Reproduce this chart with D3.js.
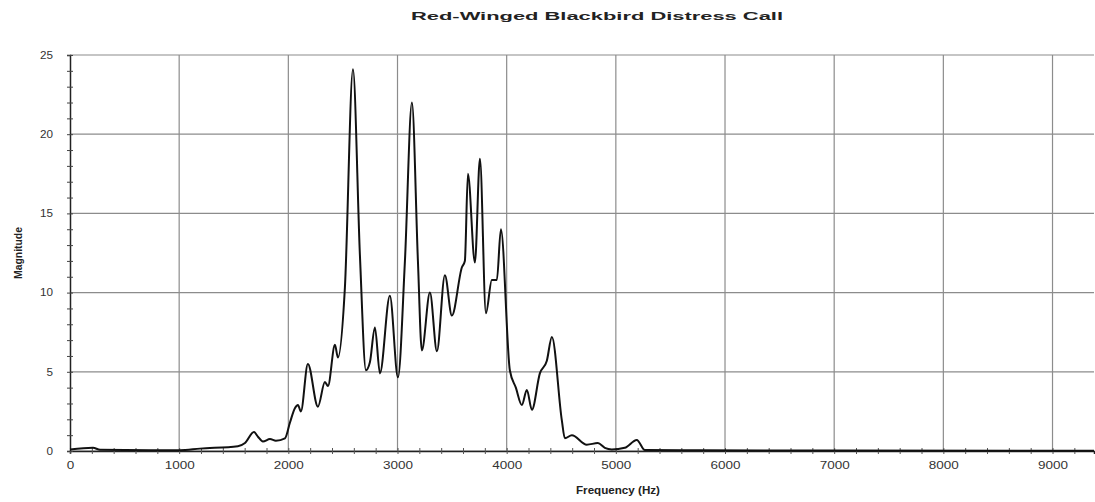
<!DOCTYPE html>
<html>
<head>
<meta charset="utf-8">
<script src="https://cdn.jsdelivr.net/npm/d3@7"></script>
<style>
  html, body { margin: 0; padding: 0; background: #fff; }
  svg { display: block; }
</style>
</head>
<body>
<svg id="chart" width="1095" height="502"></svg>
<script>
// Spectrum of the red-winged blackbird distress call
const frequencyHz = [
  0, 211, 275, 733, 1007, 1190, 1538, 1603, 1685, 1722, 1767, 1832, 1886, 1969,
  2015, 2060, 2088, 2115, 2179, 2271, 2335, 2363, 2427, 2454, 2518, 2592, 2656,
  2711, 2747, 2793, 2839, 2930, 3004, 3068, 3132, 3187, 3223, 3297, 3361, 3434,
  3498, 3590, 3617, 3645, 3709, 3755, 3810, 3864, 3910, 3947, 4029, 4084, 4139,
  4185, 4231, 4304, 4368, 4414, 4505, 4533, 4597, 4734, 4835, 4899, 4963, 5082,
  5192, 5266, 5769, 7000, 9380
];
const magnitude = [
  0.1, 0.2, 0.08, 0.05, 0.05, 0.15, 0.3, 0.5, 1.2, 0.9, 0.6, 0.75, 0.65, 0.8,
  1.8, 2.7, 2.9, 2.5, 5.5, 2.8, 4.35, 4.1, 6.7, 5.9, 10.3, 24.1, 12.3,
  5.1, 5.6, 7.8, 4.9, 9.8, 4.65, 12.0, 22.0, 12.0, 6.35, 10.0, 6.3, 11.1,
  8.55, 11.6, 12.0, 17.5, 11.9, 18.45, 8.7, 10.8, 10.8, 14.0, 5.1, 4.0, 2.9,
  3.85, 2.6, 4.9, 5.7, 7.2, 1.95, 0.8, 1.0, 0.4, 0.5, 0.2, 0.1, 0.2,
  0.7, 0.06, 0.05, 0.03, 0.02
];
const xTickValues = [0, 1000, 2000, 3000, 4000, 5000, 6000, 7000, 8000, 9000];
const yTickValues = [0, 5, 10, 15, 20, 25];

const titleText = "Red-Winged Blackbird Distress Call";
const xTitle = "Frequency (Hz)";
const yTitle = "Magnitude";

const svg = d3.select("#chart");
const plotLeft = 70, plotRight = 1094, plotTop = 55, plotBottom = 451;

const x = d3.scaleLinear().domain([0, 9380]).range([plotLeft, plotRight]);
const y = d3.scaleLinear().domain([0, 25]).range([plotBottom, plotTop]);

const font = "'Liberation Sans', Arial, sans-serif";
const grid = "#8c8c8c";

// grid lines
svg.append("g").selectAll("line").data(yTickValues).join("line")
  .attr("x1", plotLeft).attr("x2", plotRight)
  .attr("y1", d => y(d)).attr("y2", d => y(d))
  .attr("stroke", grid).attr("stroke-width", 1.2);
svg.append("g").selectAll("line").data(xTickValues.filter(d => d > 0)).join("line")
  .attr("x1", d => x(d)).attr("x2", d => x(d))
  .attr("y1", plotTop).attr("y2", plotBottom)
  .attr("stroke", grid).attr("stroke-width", 1.2);

// axes with minor ticks
const xMinor = d3.range(0, 9400, 200);
svg.append("g")
  .attr("transform", `translate(0,${plotBottom})`)
  .call(d3.axisBottom(x).tickValues(xMinor).tickSize(3).tickFormat(""))
  .call(g => g.select(".domain").attr("stroke", "#222").attr("stroke-width", 1.5))
  .call(g => g.selectAll(".tick line").attr("stroke", "#555").attr("y1", -3));

svg.append("g")
  .attr("transform", `translate(0,${plotBottom})`)
  .call(d3.axisBottom(x).tickValues(xTickValues).tickSize(0).tickPadding(11).tickFormat(d3.format("d")))
  .call(g => g.select(".domain").remove())
  .call(g => g.selectAll("text")
    .attr("font-family", font).attr("font-size", 10).attr("fill", "#333")
    .attr("textLength", d => String(d).length * 7.5)
    .attr("lengthAdjust", "spacingAndGlyphs"));

const yMinor = d3.range(0, 26, 1);
svg.append("g")
  .attr("transform", `translate(${plotLeft},0)`)
  .call(d3.axisLeft(y).tickValues(yMinor).tickSize(3).tickFormat(""))
  .call(g => g.select(".domain").attr("stroke", "#222").attr("stroke-width", 1.5))
  .call(g => g.selectAll(".tick line").attr("stroke", "#444").attr("x1", 3));

svg.append("g")
  .attr("transform", `translate(${plotLeft},0)`)
  .call(d3.axisLeft(y).tickValues(yTickValues).tickSize(0).tickPadding(17).tickFormat(d3.format("d")))
  .call(g => g.select(".domain").remove())
  .call(g => g.selectAll("text")
    .attr("font-family", font).attr("font-size", 10).attr("fill", "#333")
    .attr("textLength", d => String(d).length * 6.5)
    .attr("lengthAdjust", "spacingAndGlyphs"));

// spectrum curve
const points = frequencyHz.map((f, i) => [f, magnitude[i]]);
const line = d3.line()
  .x(d => x(d[0])).y(d => y(d[1]))
  .curve(d3.curveMonotoneX);
svg.append("path")
  .datum(points)
  .attr("d", line)
  .attr("fill", "none")
  .attr("stroke", "#111")
  .attr("stroke-width", 2)
  .attr("stroke-linejoin", "round");

// titles
svg.append("text")
  .attr("x", 597).attr("y", 20)
  .attr("text-anchor", "middle")
  .attr("font-family", font).attr("font-weight", "bold").attr("font-size", 11)
  .attr("fill", "#222")
  .attr("textLength", 372).attr("lengthAdjust", "spacingAndGlyphs")
  .text(titleText);

svg.append("text")
  .attr("x", 618).attr("y", 494)
  .attr("text-anchor", "middle")
  .attr("font-family", font).attr("font-weight", "bold").attr("font-size", 10)
  .attr("fill", "#222")
  .attr("textLength", 84).attr("lengthAdjust", "spacingAndGlyphs")
  .text(xTitle);

svg.append("text")
  .attr("transform", `translate(22,${(plotTop + plotBottom) / 2}) rotate(-90)`)
  .attr("text-anchor", "middle")
  .attr("font-family", font).attr("font-weight", "bold").attr("font-size", 10)
  .attr("fill", "#222")
  .attr("textLength", 52).attr("lengthAdjust", "spacingAndGlyphs")
  .text(yTitle);
</script>
</body>
</html>
